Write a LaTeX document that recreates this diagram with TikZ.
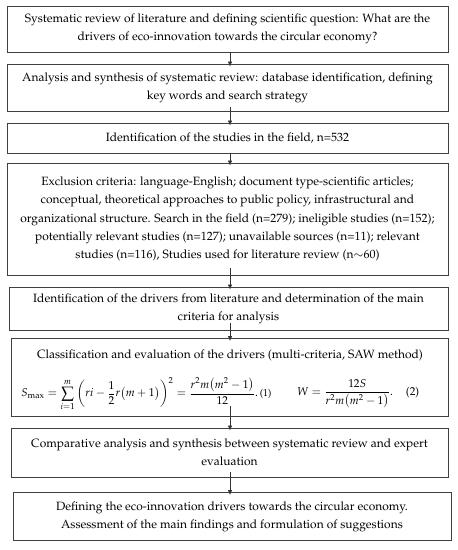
\documentclass[tikz,border=0pt]{standalone}
\usepackage[T1]{fontenc}
\usepackage{mathpazo}
\usetikzlibrary{arrows.meta}
\tikzset{
  box/.style={draw=black!75, line width=0.8pt, rectangle, inner sep=0pt, align=center,
    font=\fontsize{12}{18.3}\selectfont},
  formula/.style={font=\fontsize{11.4}{13}\selectfont, anchor=west, inner sep=0pt},
  arr/.style={draw=black!80, line width=0.7pt, -{Latex[length=5pt,width=4.5pt]}, shorten >=-3pt}
}
\begin{document}
\begin{tikzpicture}[x=1pt,y=1pt]
\useasboundingbox[fill=white] (0,0) rectangle (458,-550);
\coordinate (ax) at (230,0);
\node[box, minimum width=441pt, minimum height=46pt] (b1) at (227.5,-29)
  {Systematic review of literature and defining scientific question: What are the\\
   drivers of eco-innovation towards the circular economy?};
\node[box, minimum width=441pt, minimum height=47pt] (b2) at (227.5,-87.5)
  {Analysis and synthesis of systematic review: database identification, defining\\
   key words and search strategy};
\node[box, minimum width=441pt, minimum height=30pt] (b3) at (227.5,-138)
  {Identification of the studies in the field, n=532};
\node[box, minimum width=441pt, minimum height=112pt] (b4) at (227.5,-219)
  {Exclusion criteria: language-English; document type-scientific articles;\\
   conceptual, theoretical approaches to public policy, infrastructural and\\
   organizational structure. Search in the field (n=279); ineligible studies (n=152);\\
   potentially relevant studies (n=127); unavailable sources (n=11); relevant\\
   studies (n=116), Studies used for literature review (n${\sim}$60)};
\node[box, minimum width=439pt, minimum height=43pt] (b5) at (228.5,-308.5)
  {Identification of the drivers from literature and determination of the main\\
   criteria for analysis};
\node[box, minimum width=437pt, minimum height=78pt] (b6) at (229.5,-377.5)
  {};
\node[font=\fontsize{12}{13}\selectfont, anchor=base] (t6) at (230,-358)
  {Classification and evaluation of the drivers (multi-criteria, SAW method)};
\node[formula] (f1) at (21,-394)
  {$\displaystyle S_{\max}=\sum_{i=1}^{m}\left(ri-\frac{1}{2}r\bigl(m+1\bigr)\right)^{2}=\frac{r^{2}m\bigl(m^{2}-1\bigr)}{12}$.\,{\fontsize{10}{12}\selectfont(1)}};
\node[formula] (f2) at (297,-394)
  {$\displaystyle W=\frac{12S}{r^{2}m\bigl(m^{2}-1\bigr)}$.\hspace{13pt}(2)};
\node[box, minimum width=437pt, minimum height=49pt] (b7) at (229.5,-452.5)
  {Comparative analysis and synthesis between systematic review and expert\\
   evaluation};
\node[box, minimum width=438pt, minimum height=48pt] (b8) at (232,-516.5)
  {Defining the eco-innovation drivers towards the circular economy.\\
   Assessment of the main findings and formulation of suggestions};
\draw[arr] (b1.south -| ax) -- (b2.north -| ax);
\draw[arr] ([yshift=4pt]b2.south -| ax) -- (b3.north -| ax);
\draw[arr] (b3.south -| ax) -- (b4.north -| ax);
\draw[arr] ([yshift=7pt]b4.south -| ax) -- (b5.north -| ax);
\draw[arr] ([yshift=7pt]b5.south -| ax) -- (b6.north -| ax);
\draw[arr] ([yshift=11pt]b6.south -| ax) -- (b7.north -| ax);
\draw[arr] ([yshift=5pt]b7.south -| ax) -- (b8.north -| ax);
\end{tikzpicture}
\end{document}
